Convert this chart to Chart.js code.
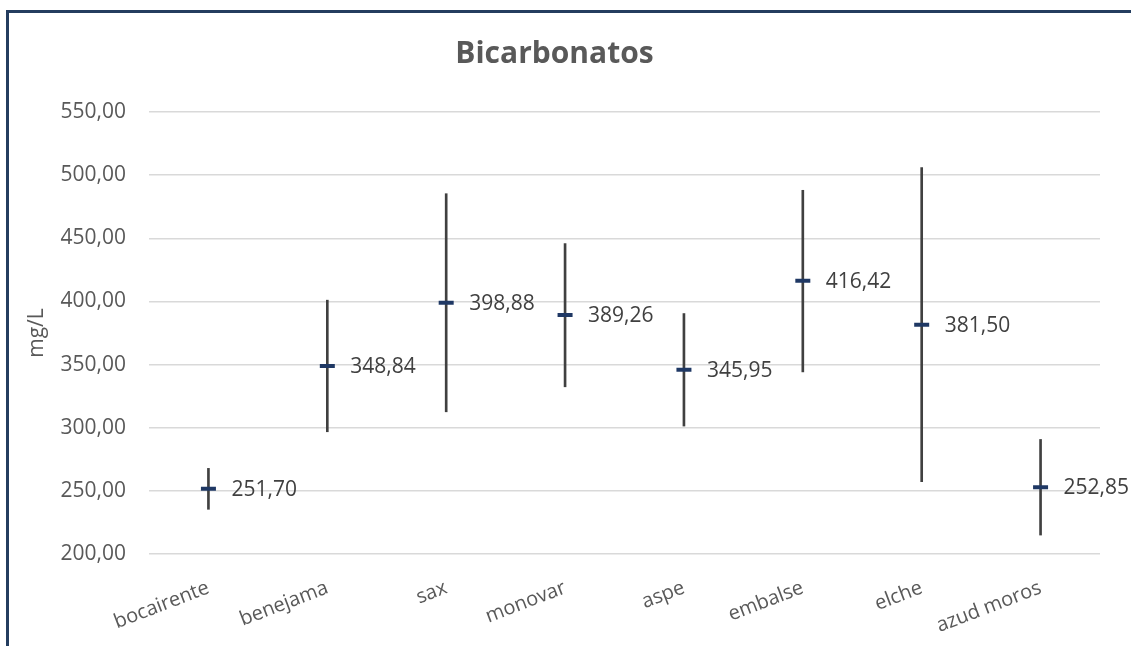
<!DOCTYPE html>
<html>
<head>
<meta charset="utf-8">
<script src="https://cdn.jsdelivr.net/npm/chart.js@4/dist/chart.umd.min.js"></script>
<style>
  html, body { margin: 0; padding: 0; background: #fff; }
  #wrap { position: relative; width: 1131px; height: 646px; }
  #frame {
    position: absolute; left: 6px; top: 10px; right: 0; bottom: 0;
    border-left: 3px solid #243D5F; border-top: 3px solid #243D5F;
    pointer-events: none;
  }
</style>
</head>
<body>
<div id="wrap">
  <canvas id="chart" width="1131" height="646"></canvas>
  <div id="frame"></div>
</div>
<script>
// Bicarbonatos — range (min/max) and mean per site
const sites = ['bocairente', 'benejama', 'sax', 'monovar', 'aspe', 'embalse', 'elche', 'azud moros'];
const means = [251.70, 348.84, 398.88, 389.26, 345.95, 416.42, 381.50, 252.85];
const lows  = [235.4, 296.8, 312.6, 332.4, 301.3, 344.2, 257.2, 215.0];
const highs = [267.8, 401.0, 485.3, 445.8, 390.4, 488.0, 505.9, 290.7];
const yTicks = [200, 250, 300, 350, 400, 450, 500, 550];

const fmt = v => v.toFixed(2).replace('.', ',');
const fontFamily = "'Open Sans', sans-serif";

const meanLabels = {
  id: 'meanLabels',
  afterDatasetsDraw(chart) {
    const meta = chart.getDatasetMeta(1);
    const ctx = chart.ctx;
    ctx.save();
    ctx.font = '21px ' + fontFamily;
    ctx.fillStyle = '#404040';
    ctx.textBaseline = 'middle';
    ctx.textAlign = 'left';
    meta.data.forEach((pt, i) => {
      ctx.fillText(fmt(means[i]), pt.x + 23, pt.y + 1);
    });
    ctx.restore();
  }
};

new Chart(document.getElementById('chart'), {
  type: 'bar',
  data: {
    labels: sites,
    datasets: [
      {
        label: 'rango',
        data: sites.map((_, i) => [lows[i], highs[i]]),
        backgroundColor: '#404040',
        barThickness: 2,
        order: 2
      },
      {
        type: 'line',
        label: 'media',
        data: means,
        showLine: false,
        pointStyle: 'line',
        pointRadius: 7.5,
        pointBorderWidth: 4,
        borderColor: '#1F3864',
        backgroundColor: '#1F3864',
        order: 1
      }
    ]
  },
  options: {
    responsive: false,
    animation: false,
    layout: { padding: { left: 9, top: 13, right: 31, bottom: 0 } },
    plugins: {
      legend: { display: false },
      tooltip: { enabled: false },
      title: {
        display: true,
        text: 'Bicarbonatos',
        color: '#595959',
        font: { family: fontFamily, size: 30, weight: 'bold' },
        padding: { top: 23, bottom: 40 }
      }
    },
    scales: {
      x: {
        grid: { display: false, drawTicks: false },
        border: { display: false },
        ticks: {
          color: '#595959',
          font: { family: fontFamily, size: 20 },
          minRotation: 21,
          maxRotation: 21,
          padding: 22,
          autoSkip: false
        },
        afterFit: s => { s.height = 92; }
      },
      y: {
        min: 200,
        max: 550,
        grid: { color: '#D9D9D9', lineWidth: 1.5, drawTicks: false },
        border: { display: false },
        afterBuildTicks: s => { s.ticks = yTicks.map(v => ({ value: v })); },
        ticks: {
          color: '#595959',
          font: { family: fontFamily, size: 21 },
          padding: 23,
          callback: v => fmt(v)
        },
        title: {
          display: true,
          text: 'mg/L',
          color: '#595959',
          font: { family: fontFamily, size: 21 },
          padding: { top: 15, bottom: 0 }
        },
        afterFit: s => { s.width = 140; }
      }
    }
  },
  plugins: [meanLabels]
});
</script>
</body>
</html>
